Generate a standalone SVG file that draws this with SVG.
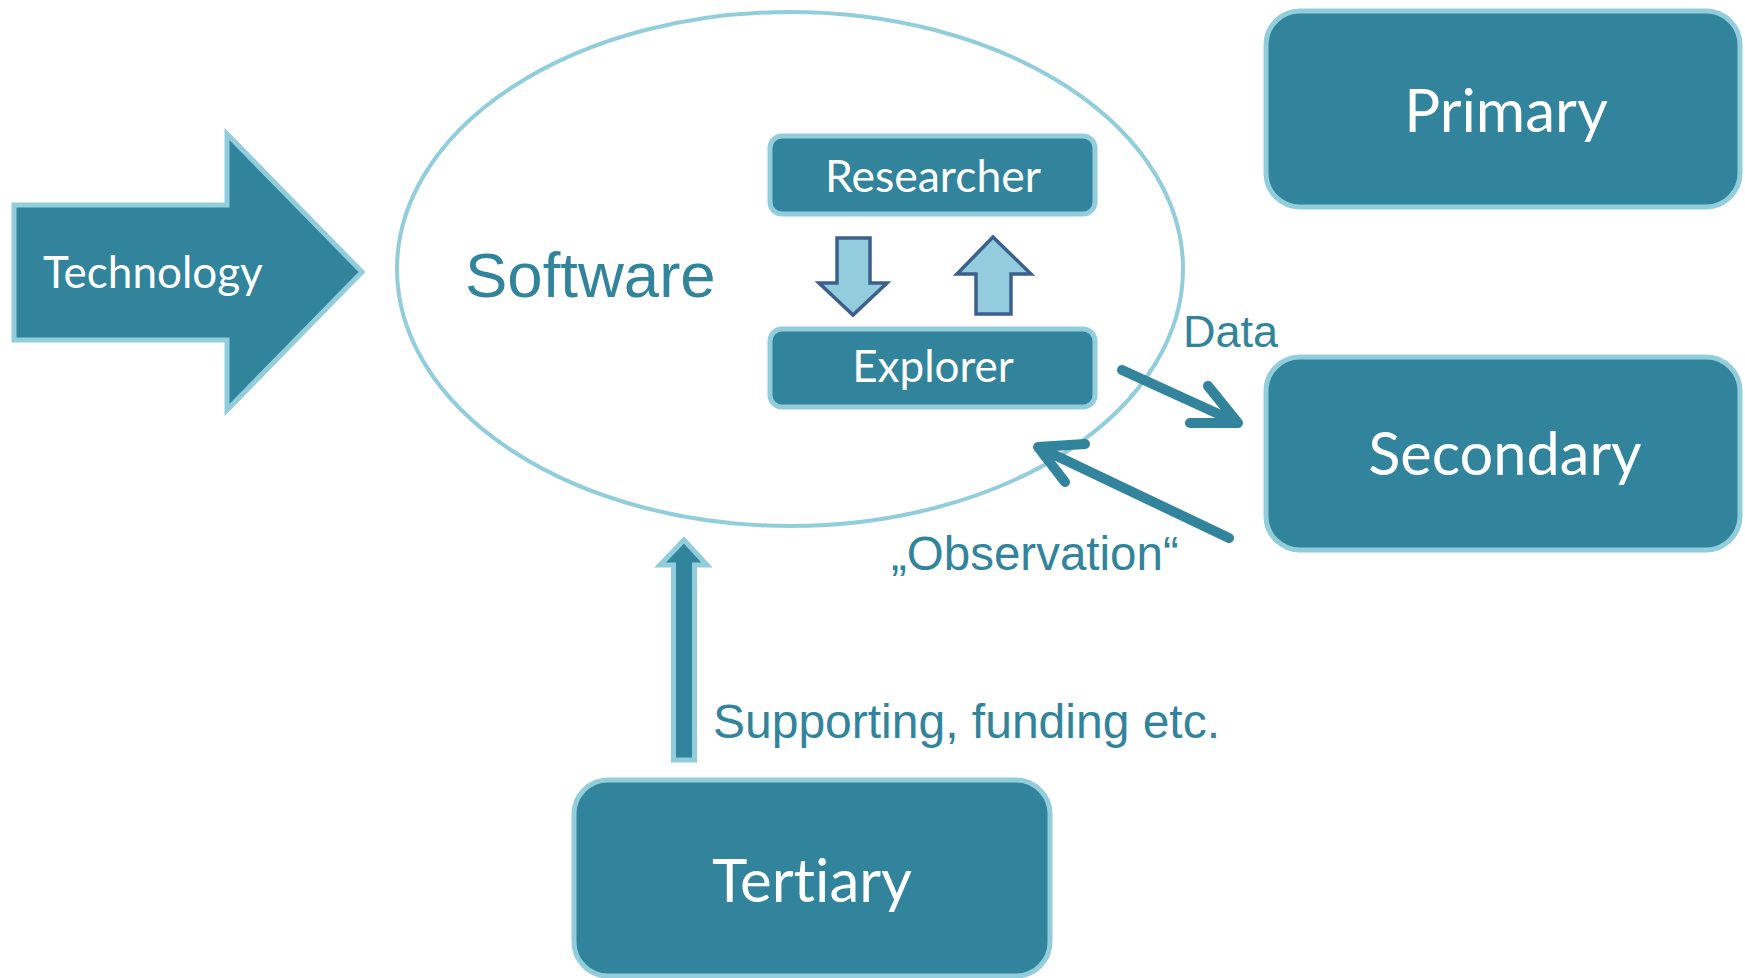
<svg xmlns="http://www.w3.org/2000/svg" width="1745" height="978" viewBox="0 0 1745 978">
<style>
.box{fill:#31849B;stroke:#92CDDC;stroke-width:5}
.blk{font-family:Lato,"Open Sans",sans-serif;fill:#FFFFFF;text-anchor:middle;font-variant-ligatures:none}
.lbl{font-family:"Liberation Sans",Arial,sans-serif;fill:#31849B}
.conn{fill:none;stroke:#31849B;stroke-width:10;stroke-linecap:round;stroke-linejoin:round}
.small{fill:#93CDDD;stroke:#3C5F8D;stroke-width:3.5}
</style>
<rect width="1745" height="978" fill="#FFFFFF"/>
<g id="software">
<ellipse cx="790" cy="269" rx="393" ry="257" fill="none" stroke="#92CDDC" stroke-width="4"/>
<text class="lbl" x="465" y="297" font-size="63.5">Software</text>
</g>
<g id="technology">
<path class="box" d="M14,205 L227,205 L227,134 L362,272 L227,410 L227,340 L14,340 Z"/>
<text class="blk" x="43" y="288" font-size="44" style="text-anchor:start">Technology</text>
</g>
<g id="researcher">
<rect class="box" x="770" y="136" width="325" height="78" rx="12"/>
<text class="blk" x="933" y="192" font-size="44.5">Researcher</text>
</g>
<g id="explorer">
<rect class="box" x="770" y="329" width="325" height="78" rx="12"/>
<text class="blk" x="933" y="382" font-size="44">Explorer</text>
</g>
<g id="primary">
<rect class="box" x="1266" y="11" width="474" height="196" rx="34"/>
<text class="blk" x="1506" y="132" font-size="60">Primary</text>
</g>
<g id="secondary">
<rect class="box" x="1266" y="357" width="474" height="193" rx="34"/>
<text class="blk" x="1505" y="475" font-size="59.5">Secondary</text>
</g>
<g id="tertiary">
<rect class="box" x="574" y="780" width="476" height="196" rx="34"/>
<text class="blk" x="812" y="902" font-size="60">Tertiary</text>
</g>
<g id="connectors">
<path class="small" d="M837,238 L870,238 L870,283 L887,283 L853,315 L819,283 L837,283 Z"/>
<path class="small" d="M993,237 L1031,274 L1011,274 L1011,314 L976,314 L976,274 L957,274 Z"/>
<path class="conn" d="M1122,370 L1236,422"/>
<path class="conn" d="M1208,386 L1238,423 L1190,423"/>
<path class="conn" d="M1229,538 L1042,449"/>
<path class="conn" d="M1085,444 L1038,447 L1065,482"/>
<path class="box" d="M684,540 L707,565 L694.5,565 L694.5,760 L673.5,760 L673.5,565 L660,565 Z"/>
</g>
<g id="labels">
<text class="lbl" x="1183" y="347" font-size="45">Data</text>
<text class="lbl" x="891" y="570" font-size="47.5">„Observation“</text>
<text class="lbl" x="713" y="738" font-size="48">Supporting, funding etc.</text>
</g>
</svg>
